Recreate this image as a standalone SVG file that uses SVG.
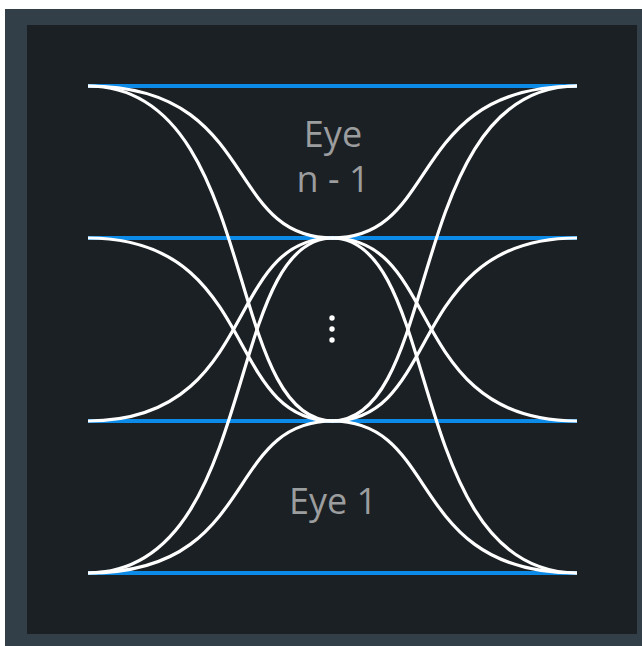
<svg xmlns="http://www.w3.org/2000/svg" xmlns:xlink="http://www.w3.org/1999/xlink" width="642" height="646" viewBox="0 0 642 646">
<style>
.lvl{stroke:#0b8ae8;stroke-width:4;fill:none}
.tr{stroke:#ffffff;stroke-width:3.2;fill:none}
.lbl{font-family:"Open Sans","Noto Sans",sans-serif;font-size:36px;fill:#9c9d9e;text-anchor:middle}
</style>
<defs>
<g id="half">
<path d="M88,86 C259.5,86 222.75,238 333,238"/>
<path d="M88,86 C259.5,86 222.75,421 333,421"/>
<path d="M88,238 C259.5,238 222.75,421 333,421"/>
<path d="M88,421 C259.5,421 222.75,238 333,238"/>
<path d="M88,573 C259.5,573 222.75,421 333,421"/>
<path d="M88,573 C259.5,573 222.75,238 333,238"/>
</g>
</defs>
<rect x="0" y="0" width="642" height="646" fill="#ffffff"/>
<rect x="5" y="9" width="637" height="637" fill="#323e48"/>
<rect x="27" y="25" width="610" height="609" fill="#1b2024"/>
<g id="levels">
<line class="lvl" x1="88" y1="86" x2="577" y2="86"/>
<line class="lvl" x1="88" y1="238" x2="577" y2="238"/>
<line class="lvl" x1="88" y1="421" x2="577" y2="421"/>
<line class="lvl" x1="88" y1="573" x2="577" y2="573"/>
</g>
<g id="connectors" class="tr">
<use xlink:href="#half" href="#half"/>
<use xlink:href="#half" href="#half" transform="matrix(-1,0,0,1,665,0)"/>
</g>
<g id="eye-n-1">
<text class="lbl" x="333" y="147">Eye</text>
<text class="lbl" x="333" y="192">n - 1</text>
</g>
<g id="ellipsis" fill="#ffffff">
<circle cx="332" cy="318" r="2.7"/>
<circle cx="332" cy="329" r="2.7"/>
<circle cx="332" cy="340" r="2.7"/>
</g>
<g id="eye-1">
<text class="lbl" x="333" y="514">Eye 1</text>
</g>
</svg>
